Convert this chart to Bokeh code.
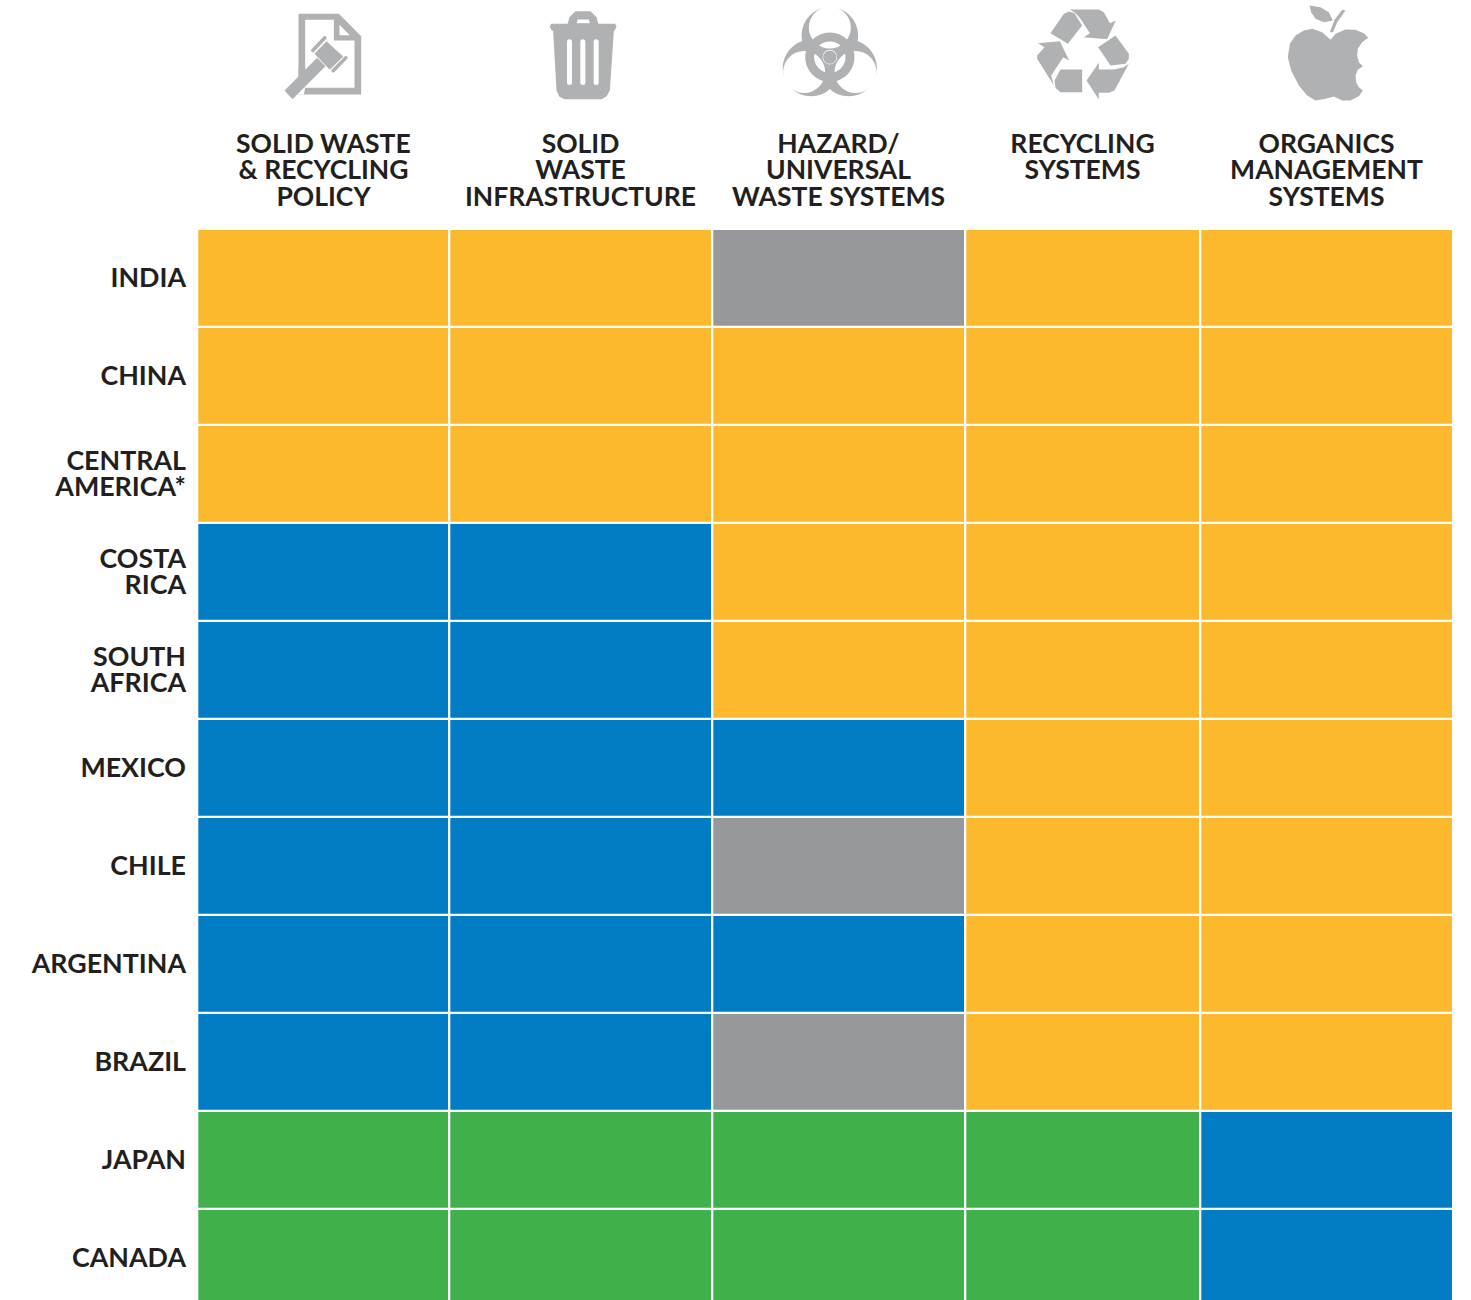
import math
from bokeh.plotting import figure
from bokeh.models import Range1d
from bokeh.core.properties import value
from bokeh.embed import file_html
from bokeh.resources import INLINE

# ---- data ----
columns = ["SOLID WASTE\n& RECYCLING\nPOLICY", "SOLID\nWASTE\nINFRASTRUCTURE",
           "HAZARD/\nUNIVERSAL\nWASTE SYSTEMS", "RECYCLING\nSYSTEMS",
           "ORGANICS\nMANAGEMENT\nSYSTEMS"]
countries = ["INDIA", "CHINA", "CENTRAL\nAMERICA*", "COSTA\nRICA", "SOUTH\nAFRICA",
             "MEXICO", "CHILE", "ARGENTINA", "BRAZIL", "JAPAN", "CANADA"]
policy =         ["Y", "Y", "Y", "B", "B", "B", "B", "B", "B", "G", "G"]
infrastructure = ["Y", "Y", "Y", "B", "B", "B", "B", "B", "B", "G", "G"]
hazard =         ["N", "Y", "Y", "Y", "Y", "B", "N", "B", "N", "G", "G"]
recycling =      ["Y", "Y", "Y", "Y", "Y", "Y", "Y", "Y", "Y", "G", "G"]
organics =       ["Y", "Y", "Y", "Y", "Y", "Y", "Y", "Y", "Y", "B", "B"]
status_table = [policy, infrastructure, hazard, recycling, organics]

# ---- styles / layout ----
PALETTE = {"Y": "#fdb92d", "B": "#007dc5", "G": "#40b04c", "N": "#97989c"}
ICON = "#b0b1b3"
INK = "#231f20"
FONT = value("Lato")
COL_L = [197.8, 449.8, 712.8, 965.8, 1200.8]
COL_R = [447.5, 710.5, 963.5, 1198.5, 1451.5]
COL_C = [323, 580, 838, 1082, 1326]
ROW_T, ROW_P, ROW_H = 229.6, 98, 95.6

p = figure(width=1471, height=1300, x_range=Range1d(0, 1471), y_range=Range1d(1300, 0),
           output_backend="svg", toolbar_location=None, min_border=0)
p.axis.visible = False
p.grid.visible = False
p.outline_line_color = None
p.background_fill_color = "white"

# ---- cells ----
left, right, top, bottom, color = [], [], [], [], []
for c, col in enumerate(status_table):
    for r, s in enumerate(col):
        left.append(COL_L[c]); right.append(COL_R[c])
        top.append(ROW_T + ROW_P * r); bottom.append(ROW_T + ROW_P * r + ROW_H)
        color.append(PALETTE[s])
p.quad(left=left, right=right, top=top, bottom=bottom, fill_color=color, line_color=None)

# ---- labels ----
tx, ty, tt = [], [], []
for c, name in enumerate(columns):
    for i, line in enumerate(name.split("\n")):
        tx.append(COL_C[c]); ty.append(142 + 26.5 * i); tt.append(line)
p.text(tx, ty, text=tt, text_font=FONT, text_font_style="bold", text_font_size="26.5px",
       text_align="center", text_baseline="middle", text_color=INK)

lx, ly, lt = [], [], []
for r, name in enumerate(countries):
    lines = name.split("\n")
    mid = 230 + ROW_P * r + 48 - 2
    for i, line in enumerate(lines):
        lx.append(185.5); ly.append(mid + (i - (len(lines) - 1) / 2) * 26); lt.append(line)
p.text(lx, ly, text=lt, text_font=FONT, text_font_style="bold", text_font_size="26.8px",
       text_align="right", text_baseline="middle", text_color=INK)


# ---- icons (traced from zoomed pixels: zoom units / 3 + offset) ----
def poly(pts, ox, fill=ICON):
    p.patch([ox + a / 3 for a, b in pts], [b / 3 for a, b in pts], fill_color=fill, line_color=None)


def stroke(pts, ox, w, color=ICON):
    p.line([ox + a / 3 for a, b in pts], [b / 3 for a, b in pts], line_width=w, line_color=color,
           line_cap="round", line_join="round")


# gavel on document
O = 270
poly([(84, 40), (205, 40), (272, 107), (272, 282), (84, 282)], O)
poly([(104, 58), (190, 58), (190, 120), (252, 120), (252, 262), (104, 262)], O, "white")
poly([(207, 73), (207, 104), (238, 104)], O, "white")
poly([(84, 238), (104, 238), (104, 262), (100, 282), (84, 282)], O, "white")
poly([(84, 200), (104, 200), (104, 240), (84, 258)], O)
poly([(42, 270), (66, 296), (165, 197), (140, 172)], O)
poly([(168, 122), (218, 168), (178, 208), (132, 160)], O)
stroke([(127, 150), (163, 112)], O, 3.6)
stroke([(188, 211), (226, 172)], O, 3.6)

# trash can
poly([(890, 75), (897, 50), (915, 32), (960, 32), (978, 50), (985, 75)], O)
poly([(918, 68), (922, 57), (955, 57), (958, 68)], O, "white")
poly([(842, 70), (1034, 70), (1038, 78), (1034, 88), (1030, 92), (1018, 270), (1008, 288), (993, 296),
      (882, 296), (866, 288), (858, 270), (848, 92), (842, 88), (838, 78)], O)
for sx in (897, 937, 977):
    stroke([(sx, 124), (sx, 246)], O, 5, "white")

# biohazard
O = 770
cx, cy = 178, 170
for ang in (0, 120, 240):
    a = math.radians(ang)
    bx, by = cx + 65 * math.sin(a), cy - 65 * math.cos(a)
    p.circle([O + bx / 3], [by / 3], radius=85 / 3, fill_color=ICON, line_color=None)
for ang in (0, 120, 240):
    a = math.radians(ang)
    wx, wy = cx + 89 * math.sin(a), cy - 89 * math.cos(a)
    p.circle([O + wx / 3], [wy / 3], radius=63 / 3, fill_color="white", line_color=None)
for ang in (90, 210, 330):
    p.annular_wedge([O + cx / 3], [cy / 3], inner_radius=47 / 3, outer_radius=74 / 3,
                    start_angle=math.radians(ang - 47), end_angle=math.radians(ang + 47),
                    fill_color=ICON, line_color=None)
p.circle([O + cx / 3], [cy / 3], radius=22 / 3, fill_color="white", line_color=None)
p.circle([O + cx / 3], [cy / 3], radius=20 / 3, fill_color=ICON, line_color=None)

# recycling arrows
for pts in [
    [(840, 98), (880, 40), (895, 33), (912, 38), (935, 75), (892, 130)],
    [(898, 27), (985, 27), (1000, 35), (1018, 68), (1036, 60), (1010, 116), (940, 110), (958, 98),
     (930, 55), (915, 38)],
    [(983, 140), (1035, 105), (1075, 160), (1075, 175), (1065, 190), (1020, 195)],
    [(1075, 190), (1032, 270), (1015, 277), (985, 277), (985, 297), (948, 240), (985, 187),
     (985, 207), (1030, 207), (1060, 200)],
    [(870, 207), (935, 207), (935, 275), (870, 275), (855, 262), (852, 240)],
    [(802, 128), (868, 122), (896, 180), (878, 170), (842, 225), (850, 255), (800, 175), (800, 165),
     (822, 140)],
]:
    poly(pts, O)

# apple
O = 1270
poly([(180, 118), (195, 100), (225, 87), (255, 88), (280, 98), (293, 112), (275, 125), (262, 145),
      (260, 165), (265, 185), (277, 197), (262, 208), (255, 225), (257, 245), (265, 260), (277, 270),
      (265, 287), (240, 300), (215, 300), (190, 288), (165, 295), (135, 300), (110, 285),
      (85, 255), (62, 210), (52, 170), (58, 130), (75, 105), (100, 90), (125, 85), (155, 95)], O)
poly([(117, 15), (150, 20), (175, 35), (187, 60), (160, 65), (135, 55), (122, 35)], O)
poly([(178, 95), (188, 95), (200, 65), (225, 30), (215, 28), (192, 58)], O)

open("out.html", "w").write(file_html(p, INLINE))
